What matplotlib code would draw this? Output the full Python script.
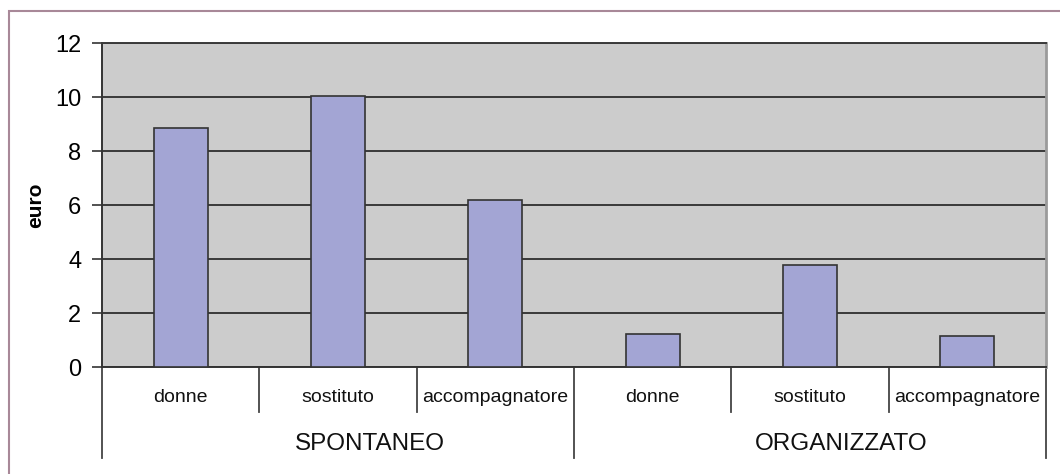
import matplotlib.pyplot as plt
import matplotlib.transforms as mtransforms
from matplotlib.patches import Rectangle

groups = ["SPONTANEO", "ORGANIZZATO"]
roles = ["donne", "sostituto", "accompagnatore"]
spontaneo = [8.85, 10.05, 6.2]
organizzato = [1.22, 3.78, 1.15]
y_ticks = [0, 2, 4, 6, 8, 10, 12]

plt.rcParams["font.family"] = ["Liberation Sans", "DejaVu Sans"]

values = spontaneo + organizzato
labels = roles * len(groups)
xs = list(range(len(values)))

fig = plt.figure(figsize=(10.6, 4.74), dpi=100)
ax = fig.add_axes([0.0962, 0.2257, 0.8906, 0.6833])

ax.set_facecolor("#cccccc")
ax.bar(xs, values, width=0.345, color="#a3a5d4", edgecolor="#333333",
       linewidth=1.2, zorder=3)

ax.set_xlim(-0.5, len(values) - 0.5)
ax.set_ylim(0, 12)
ax.set_yticks(y_ticks)
ax.set_yticklabels([str(t) for t in y_ticks], fontsize=17)
ax.yaxis.grid(True, color="#3a3a3a", linewidth=1.4, zorder=1)
ax.set_axisbelow(True)
ax.tick_params(axis="y", length=7, width=1.2, color="#333333", pad=8)
ax.set_xticks([])

for side in ("left", "bottom"):
    ax.spines[side].set_color("#333333")
    ax.spines[side].set_linewidth(1.4)
ax.spines["top"].set_color("#3a3a3a")
ax.spines["top"].set_linewidth(1.4)
ax.spines["right"].set_color("#9a9a9a")
ax.spines["right"].set_linewidth(2)

ax.set_ylabel("euro", fontsize=15, fontweight="bold", labelpad=7)

trans = mtransforms.blended_transform_factory(ax.transData, ax.transAxes)
for x, lab in zip(xs, labels):
    ax.text(x, -0.093, lab, transform=trans, ha="center", va="center",
            fontsize=14, color="#111111")

n = len(roles)
for gi, g in enumerate(groups):
    center = gi * n + (n - 1) / 2 + 0.2
    ax.text(center, -0.238, g, transform=trans, ha="center", va="center",
            fontsize=17.5, color="#111111")

for b in range(len(values) + 1):
    xb = b - 0.5
    bottom = -0.281 if b % n == 0 else -0.139
    ax.plot([xb, xb], [0, bottom], transform=trans, color="#444444",
            linewidth=1.3, clip_on=False)

fig.patches.append(Rectangle((9 / 1060, -0.05), 1.2, 1 - 11 / 474 + 0.05,
                             transform=fig.transFigure, fill=False,
                             edgecolor="#a88898", linewidth=1.5))

fig.savefig("out.png", dpi=100)
